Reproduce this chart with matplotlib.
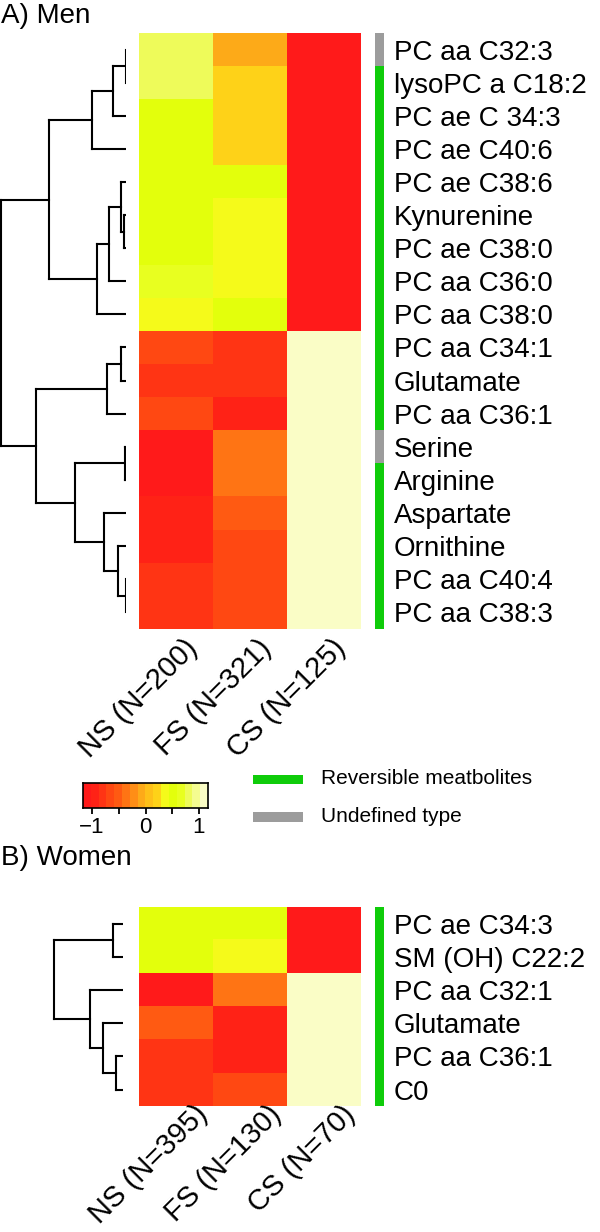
import numpy as np
import matplotlib.pyplot as plt
from matplotlib.colors import ListedColormap, Normalize
from matplotlib.patches import Rectangle
from matplotlib.transforms import offset_copy

plt.rcParams['font.family'] = ['Liberation Sans', 'DejaVu Sans']

W, H = 600, 1232

# colour key (low = red, high = pale yellow)
heat_cols = ['#FF1A1A', '#FF2216', '#FF3414', '#FF4812', '#FF5A12', '#FF7414',
             '#FF8E16', '#FDAA18', '#FEC018', '#FED218', '#F5FA1A', '#E3FF0C',
             '#E8FF20', '#EEFB5A', '#F4FC90', '#FAFDC6']
vmin, vmax = -1.17, 1.17
type_cols = ['#0FCC0A', '#9C9C9C']   # reversible, undefined

# A) Men
groups_men = ['NS (N=200)', 'FS (N=321)', 'CS (N=125)']
metab_men = ['PC aa C32:3', 'lysoPC a C18:2', 'PC ae C 34:3', 'PC ae C40:6',
             'PC ae C38:6', 'Kynurenine', 'PC ae C38:0', 'PC aa C36:0',
             'PC aa C38:0', 'PC aa C34:1', 'Glutamate', 'PC aa C36:1', 'Serine',
             'Arginine', 'Aspartate', 'Ornithine', 'PC aa C40:4', 'PC aa C38:3']
ns_men = [0.80, 0.80, 0.55, 0.55, 0.55, 0.55, 0.55, 0.68, 0.40,
          -0.66, -0.80, -0.66, -1.10, -1.10, -0.95, -0.95, -0.80, -0.80]
fs_men = [-0.05, 0.22, 0.20, 0.20, 0.55, 0.40, 0.40, 0.40, 0.55,
          -0.80, -0.80, -0.95, -0.37, -0.37, -0.51, -0.66, -0.66, -0.66]
cs_men = [-1.12] * 9 + [1.12] * 9
type_men = [1, 0, 0, 0, 0, 0, 0, 0, 0, 0, 0, 0, 1, 0, 0, 0, 0, 0]
# merges: (left, right, height); leaves 0..17, clusters 18+
merges_men = [(0, 1, 0.5), (18, 2, 12.7), (19, 3, 33.7), (5, 6, 2),
              (4, 21, 5.3), (22, 7, 16.7), (23, 8, 28.7), (20, 24, 76.7),
              (9, 10, 5.3), (26, 11, 19.3), (12, 13, 1), (16, 17, 0.5),
              (15, 29, 7.7), (14, 30, 21.7), (28, 31, 51.3), (27, 32, 90),
              (25, 33, 125)]

# B) Women
groups_wom = ['NS (N=395)', 'FS (N=130)', 'CS (N=70)']
metab_wom = ['PC ae C34:3', 'SM (OH) C22:2', 'PC aa C32:1', 'Glutamate',
             'PC aa C36:1', 'C0']
ns_wom = [0.55, 0.55, -1.10, -0.51, -0.80, -0.80]
fs_wom = [0.55, 0.40, -0.37, -0.95, -0.88, -0.66]
cs_wom = [-1.12, -1.12, 1.12, 1.12, 1.12, 1.12]
type_wom = [0, 0, 0, 0, 0, 0]
merges_wom = [(0, 1, 10), (4, 5, 7), (3, 7, 20), (2, 8, 33), (6, 9, 69)]

fig = plt.figure(figsize=(W / 100, H / 100), dpi=100)
cmap = ListedColormap(heat_cols)
norm = Normalize(vmin, vmax)


def px_axes(x0, y0, x1, y1):
    return fig.add_axes([x0 / W, 1 - y1 / H, (x1 - x0) / W, (y1 - y0) / H])


def draw_dendro(ax, merges, n):
    pos = {i: float(i) for i in range(n)}
    hgt = {i: 0.0 for i in range(n)}
    for k, (a, b, h) in enumerate(merges):
        for c in (a, b):
            ax.plot([hgt[c], h], [pos[c], pos[c]], color='black', lw=1.5,
                    solid_capstyle='projecting')
        ax.plot([h, h], [pos[a], pos[b]], color='black', lw=1.5,
                solid_capstyle='projecting')
        pos[n + k] = (pos[a] + pos[b]) / 2
        hgt[n + k] = h


def panel(top, row_h, leaf_x, groups, metab, ns, fs, cs, types, merges, loff):
    n = len(metab)
    bottom = top + n * row_h
    vals = np.column_stack([ns, fs, cs])

    axd = px_axes(0, top, leaf_x, bottom)
    draw_dendro(axd, merges, n)
    axd.set_xlim(leaf_x, 0)
    axd.set_ylim(n - 0.5, -0.5)
    axd.axis('off')

    axh = px_axes(139, top, 361, bottom)
    axh.imshow(vals, cmap=cmap, norm=norm, aspect='auto', interpolation='nearest')
    axh.axis('off')
    tr = offset_copy(axh.transData, fig=fig, x=loff[0], y=loff[1], units='dots')
    for j, g in enumerate(groups):
        axh.text(j, n - 0.5, g, transform=tr, rotation=45, rotation_mode='anchor',
                 ha='right', va='center', fontsize=21)

    axa = px_axes(375, top, 384, bottom)
    axa.imshow(np.array(types)[:, None], cmap=ListedColormap(type_cols),
               vmin=0, vmax=1, aspect='auto', interpolation='nearest')
    axa.set_xticks([])
    axa.set_yticks(range(n))
    axa.set_yticklabels(metab, fontsize=20)
    axa.yaxis.tick_right()
    axa.tick_params(axis='y', length=0, pad=7)
    for s in axa.spines.values():
        s.set_visible(False)


panel(33, 33.1, 126, groups_men, metab_men, ns_men, fs_men, cs_men,
      type_men, merges_men, (17, -15))
panel(907, 33.2, 123, groups_wom, metab_wom, ns_wom, fs_wom, cs_wom,
      type_wom, merges_wom, (27, -4))

# colour key
axc = px_axes(83, 783, 208, 808)
edges = np.linspace(vmin, vmax, len(heat_cols) + 1)
centers = (edges[:-1] + edges[1:]) / 2
axc.imshow(centers[None, :], cmap=cmap, norm=norm, aspect='auto',
           extent=(vmin, vmax, 0, 1), interpolation='nearest')
axc.set_yticks([])
axc.set_xticks([-1, -0.5, 0, 0.5, 1])
axc.set_xticklabels(['\u22121', '', '0', '', '1'])
axc.tick_params(axis='x', length=4.5, width=1.3, labelsize=16, pad=2)
for s in axc.spines.values():
    s.set_linewidth(1.2)

# overlay for titles and the type legend
ov = fig.add_axes([0, 0, 1, 1])
ov.set_xlim(0, W)
ov.set_ylim(H, 0)
ov.axis('off')
ov.text(1, 16, 'A) Men', fontsize=20, va='center', ha='left')
ov.text(1, 858, 'B) Women', fontsize=20, va='center', ha='left')
ov.add_patch(Rectangle((253, 775), 50, 9, color=type_cols[0], lw=0))
ov.add_patch(Rectangle((253, 812), 50, 10, color=type_cols[1], lw=0))
ov.text(321, 779, 'Reversible meatbolites', fontsize=15, va='center')
ov.text(321, 816, 'Undefined type', fontsize=15, va='center')

fig.savefig('out.png', dpi=100)
